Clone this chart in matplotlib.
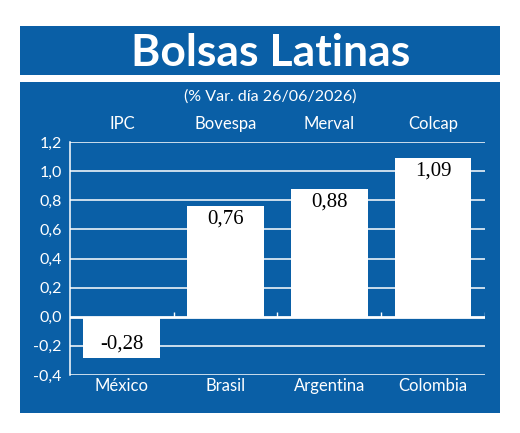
import numpy as np
import matplotlib.pyplot as plt
from matplotlib.patches import Rectangle

# Data
paises = ['México', 'Brasil', 'Argentina', 'Colombia']
indices = ['IPC', 'Bovespa', 'Merval', 'Colcap']
variacion = [-0.28, 0.76, 0.88, 1.09]
yticks = [-0.4, -0.2, 0.0, 0.2, 0.4, 0.6, 0.8, 1.0, 1.2]

BLUE = '#0a5fa6'
SANS = 'Lato'
SERIF = 'Liberation Serif'

def coma(v, fmt='{:.2f}'):
    return fmt.format(v).replace('.', ',')

fig = plt.figure(figsize=(5.2, 4.33), dpi=100)
fig.patch.set_facecolor('white')

# blue title banner and chart panel (behind the axes)
fig.patches.append(Rectangle((0.0385, 0.827), 0.923, 0.113, transform=fig.transFigure,
                             facecolor=BLUE, edgecolor='none', zorder=-5))
fig.patches.append(Rectangle((0.0385, 0.046), 0.923, 0.765, transform=fig.transFigure,
                             facecolor=BLUE, edgecolor='none', zorder=-5))
fig.text(0.52, 0.878, 'Bolsas Latinas', color='white', fontsize=32, fontweight='bold',
         family=SANS, ha='center', va='center')
fig.text(0.52, 0.778, '(% Var. día 26/06/2026)', color='white', fontsize=11.5,
         family=SANS, ha='center', va='center')

ax = fig.add_axes([0.1346, 0.134, 0.798, 0.538])
ax.set_facecolor('none')

x = np.arange(len(paises))
ax.set_xlim(-0.5, len(paises) - 0.5)
ax.set_ylim(yticks[0], yticks[-1])

# grid lines
for t in yticks:
    ax.axhline(t, color='white', lw=2.0 if t == 0 else 1.1, zorder=1)

bars = ax.bar(x, variacion, width=0.74, color='white', edgecolor='none', zorder=2)

# small ticks between categories on the zero line
ax.vlines(x + 0.5, 0, 0.035, color='white', lw=1, zorder=1)

for xi, v in zip(x, variacion):
    off = 0.09
    y = v - off if v > 0 else v + off
    ax.text(xi, y, coma(v), ha='center', va='center', fontsize=15,
            family=SERIF, color='black', zorder=3)

for s in ['top', 'right', 'bottom']:
    ax.spines[s].set_visible(False)
ax.spines['left'].set_color('white')
ax.spines['left'].set_linewidth(1.1)

ax.set_yticks(yticks)
ax.set_yticklabels([coma(t, '{:.1f}') for t in yticks], color='white',
                   fontsize=11.5, family=SANS)
ax.tick_params(axis='y', length=0, pad=6)

ax.set_xticks(x)
ax.set_xticklabels(paises, color='white', fontsize=12, family=SANS)
ax.tick_params(axis='x', length=0, pad=2)

# index names just above the plot area
for xi, lab in zip(x, indices):
    ax.text(xi, 1.045, lab, transform=ax.get_xaxis_transform(), ha='center', va='bottom',
            color='white', fontsize=12, family=SANS)

fig.savefig('out.png', dpi=100)
